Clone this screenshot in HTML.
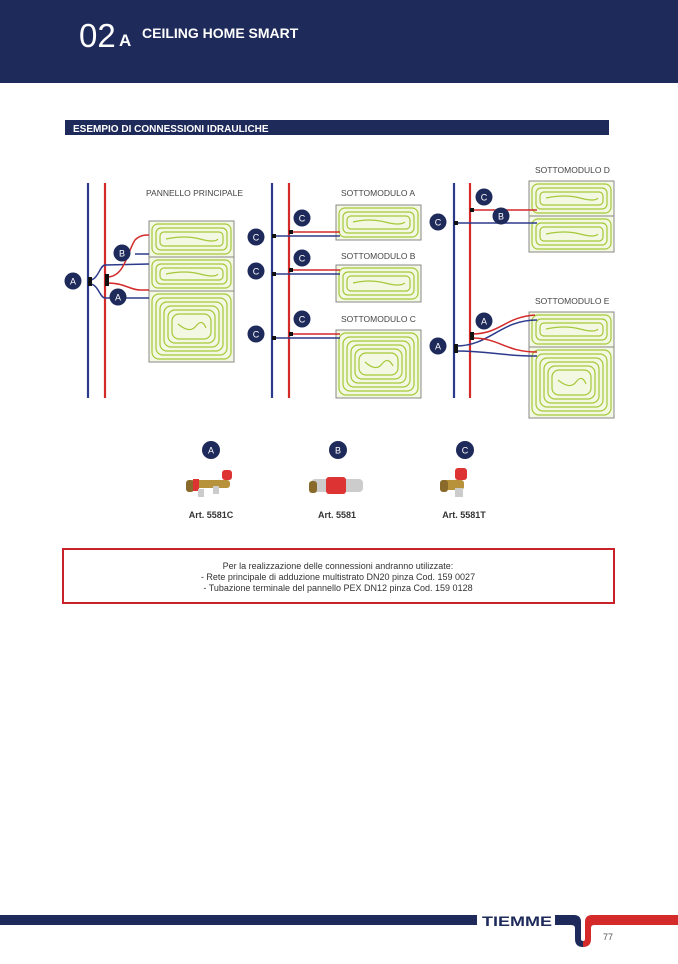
<!DOCTYPE html>
<html><head><meta charset="utf-8"><style>
body{margin:0;width:678px;height:959px;background:#fff;overflow:hidden;font-family:"Liberation Sans",sans-serif;}
</style></head><body>
<svg width="678" height="959" viewBox="0 0 678 959" xmlns="http://www.w3.org/2000/svg" font-family="Liberation Sans, sans-serif">
<rect x="0" y="0" width="678" height="83" fill="#1e2a5a"/>
<text x="79" y="47" fill="#fff" font-size="33" font-weight="300">02</text>
<text x="119" y="46" fill="#fff" font-size="17" font-weight="bold">A</text>
<text x="142" y="38" fill="#fff" font-size="14" font-weight="bold">CEILING HOME SMART</text>
<rect x="65" y="120" width="544" height="15" fill="#1e2a5a"/>
<text x="73" y="132" fill="#fff" font-size="10" font-weight="bold">ESEMPIO DI CONNESSIONI IDRAULICHE</text>

<g font-size="8.5" fill="#444">
<text x="146" y="196">PANNELLO PRINCIPALE</text>
<text x="341" y="196">SOTTOMODULO A</text>
<text x="341" y="259">SOTTOMODULO B</text>
<text x="341" y="322">SOTTOMODULO C</text>
<text x="535" y="173">SOTTOMODULO D</text>
<text x="535" y="304">SOTTOMODULO E</text>
</g>

<g stroke-width="2.2" fill="none">
<line x1="88" y1="183" x2="88" y2="398" stroke="#2c3a8c"/>
<line x1="105" y1="183" x2="105" y2="398" stroke="#d42a2a"/>
<line x1="272" y1="183" x2="272" y2="398" stroke="#2c3a8c"/>
<line x1="289" y1="183" x2="289" y2="398" stroke="#d42a2a"/>
<line x1="454" y1="183" x2="454" y2="398" stroke="#2c3a8c"/>
<line x1="470" y1="183" x2="470" y2="398" stroke="#d42a2a"/>
</g>

<g stroke="#888" stroke-width="1" fill="#f3f8e2">
<rect x="149" y="221" width="85" height="36"/><rect x="149" y="257" width="85" height="34"/><rect x="149" y="291" width="85" height="71"/>
<rect x="336" y="205" width="85" height="35"/><rect x="336" y="265" width="85" height="37"/><rect x="336" y="330" width="85" height="68"/>
<rect x="529" y="181" width="85" height="35"/><rect x="529" y="216" width="85" height="36"/>
<rect x="529" y="312" width="85" height="35"/><rect x="529" y="347" width="85" height="71"/>
</g>
<g stroke="#a6c83a" stroke-width="1.2" fill="none">
<rect x="152" y="224" width="79" height="30" rx="6"/><rect x="156" y="228" width="71" height="22" rx="5"/><rect x="160" y="232" width="63" height="14" rx="4"/><path d="M166 239 Q185 235 200 239 T218 239"/>
<rect x="152" y="260" width="79" height="28" rx="6"/><rect x="156" y="264" width="71" height="20" rx="5"/><rect x="160" y="268" width="63" height="12" rx="4"/><path d="M166 274 Q185 270 200 274 T218 274"/>
<rect x="152" y="294" width="79" height="65" rx="7"/><rect x="156" y="298" width="71" height="57" rx="7"/><rect x="160" y="302" width="63" height="49" rx="7"/><rect x="164" y="306" width="55" height="41" rx="7"/><rect x="168" y="310" width="47" height="33" rx="7"/><rect x="172" y="314" width="39" height="25" rx="7"/><path d="M178 324 Q190 334 196 326 T206 328"/>

<rect x="339" y="208" width="79" height="29" rx="6"/><rect x="343" y="212" width="71" height="21" rx="5"/><rect x="347" y="216" width="63" height="13" rx="4"/><path d="M353 222 Q370 218 385 222 T405 222"/>
<rect x="339" y="268" width="79" height="31" rx="6"/><rect x="343" y="272" width="71" height="23" rx="5"/><rect x="347" y="276" width="63" height="15" rx="4"/><path d="M353 283 Q370 279 385 283 T405 283"/>
<rect x="339" y="333" width="79" height="62" rx="7"/><rect x="343" y="337" width="71" height="54" rx="7"/><rect x="347" y="341" width="63" height="46" rx="7"/><rect x="351" y="345" width="55" height="38" rx="7"/><rect x="355" y="349" width="47" height="30" rx="7"/><rect x="359" y="353" width="39" height="22" rx="7"/><path d="M365 362 Q376 372 382 364 T393 366"/>

<rect x="532" y="184" width="79" height="29" rx="6"/><rect x="536" y="188" width="71" height="21" rx="5"/><rect x="540" y="192" width="63" height="13" rx="4"/><path d="M546 198 Q565 194 580 198 T598 198"/>
<rect x="532" y="219" width="79" height="30" rx="6"/><rect x="536" y="223" width="71" height="22" rx="5"/><rect x="540" y="227" width="63" height="14" rx="4"/><path d="M546 234 Q565 230 580 234 T598 234"/>
<rect x="532" y="315" width="79" height="29" rx="6"/><rect x="536" y="319" width="71" height="21" rx="5"/><rect x="540" y="323" width="63" height="13" rx="4"/><path d="M546 329 Q565 325 580 329 T598 329"/>
<rect x="532" y="350" width="79" height="65" rx="7"/><rect x="536" y="354" width="71" height="57" rx="7"/><rect x="540" y="358" width="63" height="49" rx="7"/><rect x="544" y="362" width="55" height="41" rx="7"/><rect x="548" y="366" width="47" height="33" rx="7"/><rect x="552" y="370" width="39" height="25" rx="7"/><path d="M558 380 Q570 390 576 382 T586 384"/>
</g>

<g stroke-width="1.5" fill="none">
<path d="M90 280 C98 280 100 265 105 265 L149 264" stroke="#2c3a8c"/>
<path d="M90 284 C98 284 100 298 105 298 L149 298" stroke="#2c3a8c"/>
<path d="M107 277 C125 277 127 252 135 240 C140 235 145 235 149 235" stroke="#d42a2a"/>
<path d="M107 283 C125 283 130 290 140 290 L149 290" stroke="#d42a2a"/>
<line x1="135" y1="254" x2="149" y2="254" stroke="#2c3a8c"/>
<line x1="289" y1="232" x2="340" y2="232" stroke="#d42a2a"/>
<line x1="272" y1="236" x2="340" y2="236" stroke="#2c3a8c"/>
<line x1="289" y1="270" x2="340" y2="270" stroke="#d42a2a"/>
<line x1="272" y1="274" x2="340" y2="274" stroke="#2c3a8c"/>
<line x1="289" y1="334" x2="340" y2="334" stroke="#d42a2a"/>
<line x1="272" y1="338" x2="340" y2="338" stroke="#2c3a8c"/>
<line x1="470" y1="210" x2="537" y2="210" stroke="#d42a2a"/>
<line x1="454" y1="223" x2="537" y2="223" stroke="#2c3a8c"/>
<path d="M472 334 C500 334 505 317 535 315" stroke="#d42a2a"/>
<path d="M456 346 C490 346 500 320 537 320" stroke="#2c3a8c"/>
<path d="M472 338 C500 338 505 352 537 352" stroke="#d42a2a"/>
<path d="M456 351 C490 351 500 356 537 356" stroke="#2c3a8c"/>
</g>
<g fill="#111">
<rect x="88" y="277" width="4" height="9"/><rect x="105" y="274" width="4" height="12"/>
<rect x="289" y="230" width="4" height="4"/><rect x="272" y="234" width="4" height="4"/>
<rect x="289" y="268" width="4" height="4"/><rect x="272" y="272" width="4" height="4"/>
<rect x="289" y="332" width="4" height="4"/><rect x="272" y="336" width="4" height="4"/>
<rect x="470" y="208" width="4" height="4"/><rect x="454" y="221" width="4" height="4"/>
<rect x="470" y="332" width="4" height="8"/><rect x="454" y="344" width="4" height="9"/>
</g>

<g fill="#1e2a5a">
<circle cx="73" cy="281" r="8.5"/><circle cx="122" cy="253" r="8.5"/><circle cx="118" cy="297" r="8.5"/>
<circle cx="256" cy="237" r="8.5"/><circle cx="256" cy="271" r="8.5"/><circle cx="256" cy="334" r="8.5"/>
<circle cx="302" cy="218" r="8.5"/><circle cx="302" cy="258" r="8.5"/><circle cx="302" cy="319" r="8.5"/>
<circle cx="438" cy="222" r="8.5"/><circle cx="484" cy="197" r="8.5"/><circle cx="501" cy="216" r="8.5"/>
<circle cx="484" cy="321" r="8.5"/><circle cx="438" cy="346" r="8.5"/>
<circle cx="211" cy="450" r="9"/><circle cx="338" cy="450" r="9"/><circle cx="465" cy="450" r="9"/>
</g>
<g fill="#fff" font-size="9" text-anchor="middle">
<text x="73" y="284.5">A</text><text x="122" y="256.5">B</text><text x="118" y="300.5">A</text>
<text x="256" y="240.5">C</text><text x="256" y="274.5">C</text><text x="256" y="337.5">C</text>
<text x="302" y="221.5">C</text><text x="302" y="261.5">C</text><text x="302" y="322.5">C</text>
<text x="438" y="225.5">C</text><text x="484" y="200.5">C</text><text x="501" y="219.5">B</text>
<text x="484" y="324.5">A</text><text x="438" y="349.5">A</text>
<text x="211" y="453.5">A</text><text x="338" y="453.5">B</text><text x="465" y="453.5">C</text>
</g>

<g>
<rect x="190" y="480" width="40" height="8" rx="3" fill="#b8923a"/>
<rect x="186" y="480" width="8" height="12" rx="3" fill="#8a6a2a"/>
<rect x="193" y="479" width="6" height="12" fill="#d33"/>
<rect x="222" y="470" width="10" height="10" rx="3" fill="#d33"/>
<rect x="198" y="489" width="6" height="8" fill="#ccc"/><rect x="213" y="486" width="6" height="8" fill="#ccc"/>
<rect x="311" y="479" width="52" height="13" rx="4" fill="#ccc"/>
<rect x="326" y="477" width="20" height="17" rx="3" fill="#d33"/>
<rect x="309" y="481" width="8" height="12" rx="3" fill="#8a6a2a"/>
<rect x="442" y="480" width="22" height="10" rx="3" fill="#b8923a"/>
<rect x="440" y="480" width="8" height="12" rx="3" fill="#8a6a2a"/>
<rect x="455" y="468" width="12" height="12" rx="3" fill="#d33"/>
<rect x="455" y="488" width="8" height="9" fill="#ccc"/>
</g>
<g font-size="9" font-weight="bold" fill="#333" text-anchor="middle">
<text x="211" y="518">Art. 5581C</text><text x="337" y="518">Art. 5581</text><text x="464" y="518">Art. 5581T</text>
</g>

<rect x="63" y="549" width="551" height="54" fill="#fff" stroke="#c8232a" stroke-width="2"/>
<g font-size="9" fill="#333" text-anchor="middle">
<text x="338" y="569">Per la realizzazione delle connessioni andranno utilizzate:</text>
<text x="338" y="580">- Rete principale di adduzione multistrato DN20 pinza Cod. 159 0027</text>
<text x="338" y="591">- Tubazione terminale del pannello PEX DN12 pinza Cod. 159 0128</text>
</g>

<rect x="0" y="915" width="477" height="10" fill="#1e2a5a"/>
<text x="482" y="926" font-size="14" font-weight="bold" fill="#1e2a5a" textLength="70" lengthAdjust="spacingAndGlyphs">TIEMME</text>
<path d="M555 915 H574 Q581 915 581 922 V939 Q581 941 583 941 V947 Q575 947 575 939 V928 Q575 925 571 925 H555 Z" fill="#1e2a5a"/>
<path d="M583 941 Q585 941 585 939 V922 Q585 915 592 915 H678 V925 H594 Q591 925 591 928 V939 Q591 947 583 947 Z" fill="#d42a2a"/>
<text x="603" y="940" font-size="9" fill="#555">77</text>
</svg>
</body></html>
